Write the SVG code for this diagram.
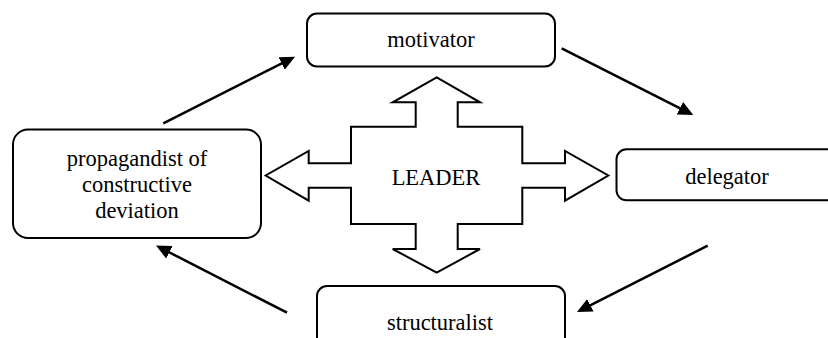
<svg xmlns="http://www.w3.org/2000/svg" width="828" height="338" viewBox="0 0 828 338">
<style>
.box{fill:#fff;stroke:#000;stroke-width:2}
.lbl{font-family:"Liberation Serif","Times New Roman",Times,serif;font-size:22.5px;fill:#000;text-anchor:middle}
.conn{stroke:#000;stroke-width:2.5;fill:none;marker-end:url(#ah)}
</style>
<defs>
<marker id="ah" markerUnits="userSpaceOnUse" markerWidth="15" markerHeight="14" viewBox="0 0 15 14" refX="3" refY="7" orient="auto">
<path d="M0,0 L15,7 L0,14 Z" fill="#000"/>
</marker>
</defs>
<rect width="828" height="338" fill="#fff"/>
<g id="leader">
<polygon class="box" points="436.7,77.3 480,102.3 457.7,102.3 457.7,126.7 522.3,126.7 522.3,163.3 565,163.3 565,151 608.3,175.5 565,200.7 565,187.7 522.3,187.7 522.3,224 457.7,224 457.7,249 480,249 436.7,272.7 392.7,249 415.7,249 415.7,224 351,224 351,187.7 308.7,187.7 308.7,200.7 265.7,175.5 308.7,151 308.7,163.3 351,163.3 351,126.7 415.7,126.7 415.7,102.3 392.7,102.3"/>
<text class="lbl" x="436" y="185">LEADER</text>
</g>
<g id="motivator">
<rect class="box" x="307" y="13.5" width="248" height="53" rx="10"/>
<text class="lbl" x="431" y="47">motivator</text>
</g>
<g id="delegator">
<rect class="box" x="616.5" y="149.3" width="230" height="51" rx="10"/>
<text class="lbl" x="727" y="183.5">delegator</text>
</g>
<g id="structuralist">
<rect class="box" x="317" y="286" width="248" height="70" rx="10"/>
<text class="lbl" x="440" y="330">structuralist</text>
</g>
<g id="propagandist">
<rect class="box" x="13" y="129.5" width="248" height="108.5" rx="15"/>
<text class="lbl" x="137" y="165.7">propagandist of</text>
<text class="lbl" x="137" y="192">constructive</text>
<text class="lbl" x="137" y="218.3">deviation</text>
</g>
<g id="connectors">
<line class="conn" x1="163.3" y1="123.3" x2="284.3" y2="62.1"/>
<line class="conn" x1="561.7" y1="48.3" x2="682.6" y2="109.6"/>
<line class="conn" x1="707.7" y1="245.7" x2="587.7" y2="306.6"/>
<line class="conn" x1="287" y1="312.7" x2="166.7" y2="251"/>
</g>
</svg>
